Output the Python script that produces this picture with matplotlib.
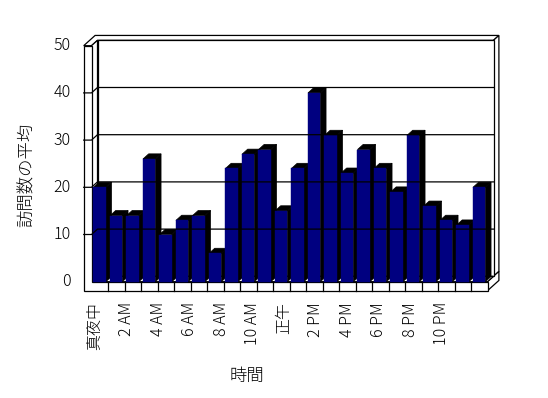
import matplotlib

matplotlib.use("Agg")

import matplotlib.pyplot as plt
from matplotlib.patches import Polygon

plt.rcParams["font.family"] = ["Noto Sans CJK JP", "DejaVu Sans"]
plt.rcParams["font.weight"] = "light"

# average visits per hour of day
hours = list(range(24))
visits = [20, 14, 14, 26, 10, 13, 14, 6, 24, 27, 28, 15,
          24, 40, 31, 23, 28, 24, 19, 31, 16, 13, 12, 20]
hour_labels = ["真夜中", "2 AM", "4 AM", "6 AM", "8 AM", "10 AM",
               "正午", "2 PM", "4 PM", "6 PM", "8 PM", "10 PM"]
y_ticks = [0, 10, 20, 30, 40, 50]
x_title = "時間"
y_title = "訪問数の平均"

# pixel layout of the front plane (Excel-style 3D column chart)
W, H = 548, 398
PX_X0 = 91.5      # left edge of first category
SLOT = 16.5       # px per category
PX_Y0 = 281.7     # value 0, from top
UNIT = 4.72       # px per value unit

D1 = (6.0 / SLOT, 5.4 / UNIT)       # depth to back wall inner face
D2 = (1.9 * D1[0], 1.9 * D1[1])     # depth to back wall outer face
DB = (0.95 * D1[0], 0.95 * D1[1])   # bar depth
WALL = 7.8 / SLOT                   # left wall thickness
FLOOR = 9.0 / UNIT                  # floor thickness
BAR_OFF, BAR_W = 0.12, 0.75
N = len(hours)
TOP = y_ticks[-1]

EDGE = dict(facecolor="white", edgecolor="black", linewidth=0.9, joinstyle="miter")


def px(x, y):
    # pixel position (from top-left) -> data coords, for text placement
    return (x - PX_X0) / SLOT, (PX_Y0 - y) / UNIT


def sh(p, d):
    return (p[0] + d[0], p[1] + d[1])


fig = plt.figure(figsize=(W / 100, H / 100), dpi=100)
ax = fig.add_axes([0, 0, 1, 1])
ax.set_xlim(-PX_X0 / SLOT, (W - PX_X0) / SLOT)
ax.set_ylim(-(H - PX_Y0) / UNIT, PX_Y0 / UNIT)
ax.axis("off")


def poly(pts, **kw):
    style = dict(EDGE)
    style.update(kw)
    ax.add_patch(Polygon(pts, closed=True, **style))


# walls top face (L shaped slab)
poly([(-WALL, TOP), (0, TOP), sh((0, TOP), D1), sh((N, TOP), D1),
      sh((N, TOP), D2), sh((-WALL, TOP), D2)])
# back wall right face
poly([sh((N, 0), D1), sh((N, TOP), D1), sh((N, TOP), D2), sh((N, 0), D2)])
# floor right face
poly([(N, -FLOOR), (N, 0), sh((N, 0), D2), sh((N, -FLOOR), D2)])
# back wall inner face
poly([sh((0, 0), D1), sh((N, 0), D1), sh((N, TOP), D1), sh((0, TOP), D1)])
# left wall inner face
poly([(0, 0), (0, TOP), sh((0, TOP), D1), sh((0, 0), D1)])
# floor top
poly([(0, 0), (N, 0), sh((N, 0), D1), sh((0, 0), D1)])
# front faces of left wall and floor
poly([(-WALL, -FLOOR), (N, -FLOOR), (N, 0), (0, 0), (0, TOP), (-WALL, TOP)])

# category dividers on the floor front
for i in range(1, N):
    ax.plot([i, i], [-FLOOR, 0], color="black", linewidth=0.9)

# gridlines across left wall and back wall
for v in y_ticks[1:-1]:
    a = sh((0, v), D1)
    b = sh((N, v), D1)
    ax.plot([-WALL, 0, a[0], b[0]], [v, v, a[1], b[1]],
            color="black", linewidth=0.9)

# bars, left to right so each front hides the previous side
for i, v in zip(hours, visits):
    x0 = i + BAR_OFF
    x1 = x0 + BAR_W
    poly([(x1, 0), (x1, v), sh((x1, v), DB), sh((x1, 0), DB)],
         facecolor="black", edgecolor="black", linewidth=0.5)
    poly([(x0, v), (x1, v), sh((x1, v), DB), sh((x0, v), DB)],
         facecolor="black", edgecolor="black", linewidth=0.5)
    poly([(x0, 0), (x1, 0), (x1, v), (x0, v)],
         facecolor="#000080", edgecolor="#000080", linewidth=0.3)

# y tick labels
lx, _ = px(70.7, 0)
for v in y_ticks:
    ax.text(lx, v, str(v), ha="right", va="center", fontsize=11.5)

# x tick labels (Excel spreads them a little tighter than the columns)
step = 15.76 / SLOT
x_first, y_lab = px(95, 302)
for k, lab in enumerate(hour_labels):
    ax.text(x_first + 2 * k * step, y_lab, lab, rotation=90,
            ha="center", va="top", fontsize=11.5)

tx, ty = px(246.7, 375.5)
ax.text(tx, ty, x_title, ha="center", va="center", fontsize=12.5)
tx, ty = px(27, 175)
ax.text(tx, ty, y_title, rotation=90, ha="center", va="center", fontsize=12.5)

fig.savefig("out.png", dpi=100)
